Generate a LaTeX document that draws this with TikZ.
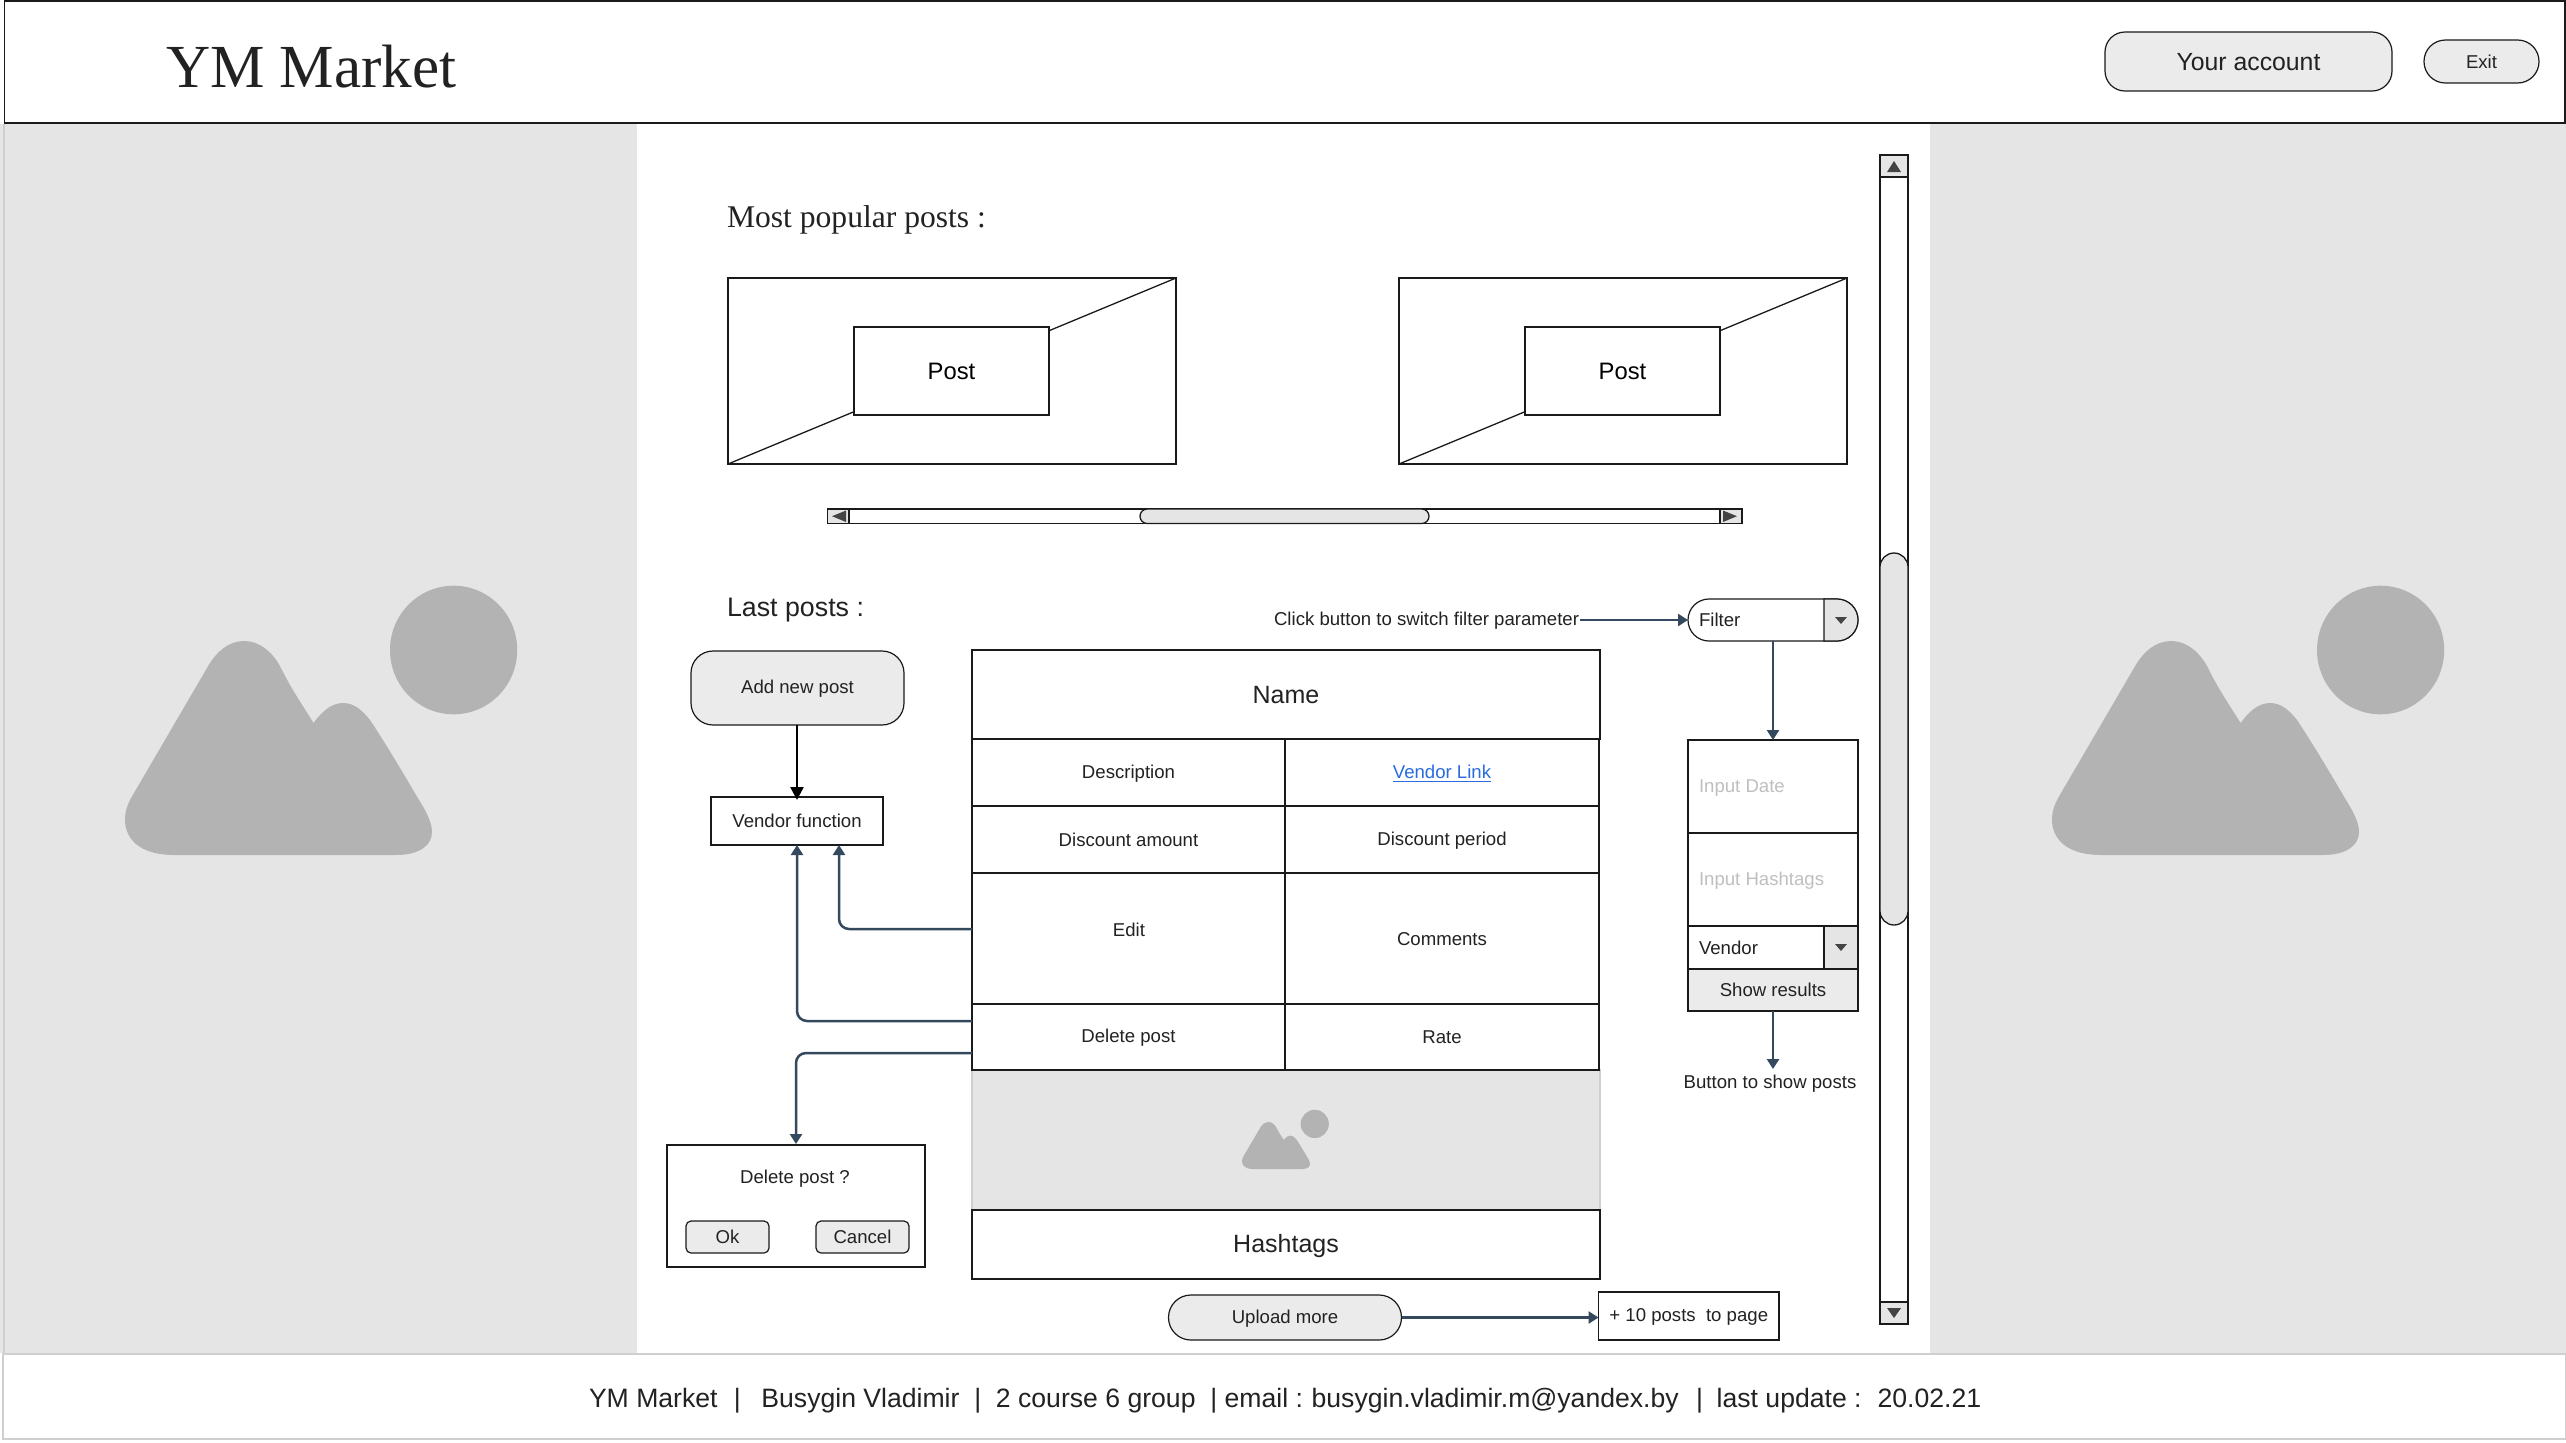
\documentclass[tikz,border=0pt]{standalone}
\usepackage{fontspec}
\setmainfont{Liberation Sans}
\newfontfamily\myserif{Liberation Serif}
\usetikzlibrary{arrows.meta}
\definecolor{panel}{HTML}{E5E5E5}
\definecolor{btn}{HTML}{EBEBEB}
\definecolor{mnt}{HTML}{B3B3B3}
\definecolor{ink}{HTML}{222222}
\definecolor{edge}{HTML}{1A1A1A}
\definecolor{conncol}{HTML}{34495E}
\definecolor{linkcol}{HTML}{2A6BE0}
\definecolor{hint}{HTML}{BFBFBF}
\definecolor{glyph}{HTML}{444444}
\definecolor{soft}{HTML}{CFCFCF}
\newcommand{\wbox}[7]{\node[#6, minimum width={(#4-#2)*0.5pt}, minimum height={(#5-#3)*0.5pt}] (#1) at ({(#2+#4)/2},{(#3+#5)/2}) {#7};}
\newcommand{\mountainart}{%
  \fill[mnt] (175,855) .. controls (130,855) and (125,830) .. (125,820)
    .. controls (125,810) and (128,803) .. (134,793) -- (207,668)
    .. controls (217,650) and (230,641) .. (244,641)
    .. controls (260,641) and (274,653) .. (282,670)
    .. controls (292,690) and (303,706) .. (313.6,723)
    .. controls (322,711) and (332,703) .. (343,703)
    .. controls (354,703) and (362,710) .. (370,720)
    .. controls (390,750) and (410,785) .. (425,810)
    .. controls (430,820) and (432,826) .. (432,832)
    .. controls (432,845) and (420,855) .. (396,855) -- cycle;
  \fill[mnt] (453.6,650) ellipse [x radius=63.6, y radius=64.3];
}
\tikzset{
  x=0.5pt, y=-0.5pt,
  base/.style={inner sep=0pt, outer sep=0pt, text=ink, execute at begin node={\rule[-0.15em]{0pt}{1em}}},
  high/.style={execute at begin node={\rule[-0.15em]{0pt}{0.9em}}},
  plain/.style={inner sep=0pt, outer sep=0pt, text=ink},
  body/.style={base, font=\fontsize{9.3pt}{11pt}\selectfont},
  bigger/.style={base, font=\fontsize{12.5pt}{15pt}\selectfont},
  cell/.style={body, draw=edge, line width=0.65pt, fill=white},
  bigcell/.style={bigger, draw=edge, line width=0.65pt, fill=white},
  frame/.style={draw=edge, line width=0.65pt, fill=white, inner sep=0pt, outer sep=0pt},
  pill/.style={body, draw=edge, line width=0.6pt, fill=btn},
  conn/.style={draw=conncol, line width=1.25pt, rounded corners=5pt, -{Triangle[width=6pt,length=5pt]}},
  tri/.style={fill=glyph, draw=none},
  sbar/.style={draw=edge, line width=0.65pt, fill=white},
  sbtn/.style={draw=edge, line width=0.65pt, fill=panel},
}
\begin{document}
\begin{tikzpicture}
\useasboundingbox (0,0) rectangle (2566,1442);
\fill[white] (0,0) rectangle (2566,1442);
% side panels
\fill[panel] (0,124) rectangle (637,1353);
\fill[panel] (1930,124) rectangle (2566,1353);
\draw[soft, line width=0.8pt] (3.7,124) -- (3.7,1353);
% header
\wbox{header}{4.5}{1}{2565}{123}{frame}{}
\node[plain, anchor=base west, font=\myserif\fontsize{30.6pt}{36pt}\selectfont] (title) at (166,87) {YM Market};
\wbox{account}{2105}{32}{2392}{91}{pill, rounded corners=10pt, font=\fontsize{12.4pt}{15pt}\selectfont}{Your account}
\wbox{exit}{2424}{40}{2539}{83}{pill, rounded corners=10.7pt}{Exit}
% footer
\wbox{footer}{3}{1354}{2566}{1439}{draw=soft, line width=0.8pt, fill=white, inner sep=0pt, outer sep=0pt}{}
\node[base, anchor=west, font=\fontsize{13.3pt}{16pt}\selectfont] (foottext) at (589,1399) {YM Market\hspace{0.8pt}~ |~ \hspace{-0.8pt}~Busygin Vladimir~ |~ 2 course 6 group~ | email :\hspace{-0.6pt} busygin.vladimir.m@yandex.by\hspace{1.4pt}~ |~\hspace{-0.6pt} last update :\hspace{-0.6pt}~ 20.02.21};
% mountains
\mountainart
\begin{scope}[shift={(1927,0)}]\mountainart\end{scope}
% section titles
\node[plain, anchor=base west, font=\myserif\fontsize{15.8pt}{18pt}\selectfont] (popular) at (727,227) {Most popular posts :};
\node[plain, anchor=base west, font=\fontsize{13.4pt}{16pt}\selectfont] (last) at (727,616) {Last posts :};
% posts
\wbox{postA}{728}{278}{1176}{464}{frame}{}
\draw[edge, line width=0.65pt] (postA.south west) -- (postA.north east);
\wbox{postAin}{854}{327}{1049}{415}{cell, font=\fontsize{11.9pt}{14pt}\selectfont, text=black}{Post}
\wbox{postB}{1399}{278}{1847}{464}{frame}{}
\draw[edge, line width=0.65pt] (postB.south west) -- (postB.north east);
\wbox{postBin}{1525}{327}{1720}{415}{cell, font=\fontsize{11.9pt}{14pt}\selectfont, text=black}{Post}
% horizontal scrollbar
\draw[sbar] (827.5,509) rectangle (1742,523.5);
\draw[sbtn] (827.5,509) rectangle (849,523.5);
\draw[sbtn] (1720,509) rectangle (1742,523.5);
\fill[tri] (832,516.2) -- (846,510.5) -- (846,522) -- cycle;
\fill[tri] (1737,516.2) -- (1723,510.5) -- (1723,522) -- cycle;
\draw[sbtn, rounded corners=3.6pt] (1140,509) rectangle (1429,523.5);
% vertical scrollbar
\draw[sbar] (1880,155) rectangle (1908,1324);
\draw[sbtn] (1880,155) rectangle (1908,177);
\draw[sbtn] (1880,1302) rectangle (1908,1324);
\fill[tri] (1894,161) -- (1901,172) -- (1887,172) -- cycle;
\fill[tri] (1894,1318) -- (1901,1308) -- (1887,1308) -- cycle;
\draw[sbtn, rounded corners=7pt] (1880,553) rectangle (1908,925);
% table
\wbox{imagecell}{972}{1070}{1600}{1210}{draw=soft, line width=0.6pt, fill=panel, inner sep=0pt, outer sep=0pt}{}
\wbox{namecell}{972}{650}{1600}{739}{bigcell}{Name}
\wbox{desc}{972}{739}{1285}{806}{cell, high}{Description}
\wbox{vlink}{1285}{739}{1599}{806}{cell, high, text=linkcol}{\underline{Vendor Link}}
\wbox{damount}{972}{806}{1285}{873}{cell}{Discount amount}
\wbox{dperiod}{1285}{806}{1599}{873}{cell}{Discount period}
\wbox{edit}{972}{873}{1285}{1004}{cell}{}
\node[body] (editlabel) at (1129,930) {Edit};
\wbox{comments}{1285}{873}{1599}{1004}{cell}{Comments}
\wbox{delpost}{972}{1004}{1285}{1070}{cell}{Delete post}
\wbox{rate}{1285}{1004}{1599}{1070}{cell, high}{Rate}
\begin{scope}[shift={(1214.3,980.9)}, xscale=0.2215, yscale=0.22]\mountainart\end{scope}
\wbox{hashcell}{972}{1210}{1600}{1279}{bigcell}{Hashtags}
% left controls
\wbox{addnew}{691}{651}{904}{725}{pill, rounded corners=11pt}{Add new post}
\wbox{vendorfn}{711}{797}{883}{845}{cell}{Vendor function}
\wbox{dialog}{667}{1145}{925}{1267}{frame}{}
\node[body] (dialogtext) at (795,1178) {Delete post ?};
\wbox{okbtn}{686}{1221}{769}{1253}{pill, rounded corners=2.5pt}{Ok}
\wbox{cancelbtn}{816}{1221}{909}{1253}{pill, rounded corners=2.5pt}{Cancel}
% bottom
\wbox{upload}{1168.5}{1295}{1401.5}{1340}{pill, rounded corners=11.2pt}{Upload more}
\wbox{tenposts}{1598.5}{1292}{1779}{1340}{cell}{+ 10 posts~ to page}
% filter column
\node[body, anchor=east] (clicktext) at (1579,620) {Click button to switch filter parameter};
\wbox{filter}{1688}{599}{1858}{641}{pill, fill=white, rounded corners=10.5pt}{}
\draw[edge, line width=0.6pt, fill=panel] (1824,599) -- (1837,599) arc[start angle=90, end angle=-90, radius=10.5pt] -- (1824,641) -- cycle;
\fill[tri] (1835,617) -- (1847,617) -- (1841,624) -- cycle;
\node[body, anchor=west] (filterlabel) at (1699,620) {Filter};
\wbox{inputdate}{1688}{740}{1858}{833}{cell}{}
\node[body, anchor=west, text=hint] (datelabel) at (1699,786.5) {Input Date};
\wbox{inputhash}{1688}{833}{1858}{926}{cell}{}
\node[body, anchor=west, text=hint] (hashlabel) at (1699,879.5) {Input Hashtags};
\wbox{vendorsel}{1688}{926}{1858}{969}{cell}{}
\draw[edge, line width=0.6pt, fill=panel] (1824,926) rectangle (1858,969);
\fill[tri] (1835,944) -- (1847,944) -- (1841,951) -- cycle;
\node[body, anchor=west] (vendorlabel) at (1699,947.5) {Vendor};
\wbox{showres}{1688}{969}{1858}{1011}{pill}{Show results}
\node[body] (showtext) at (1770,1083) {Button to show posts};
% connectors
\coordinate (vfLeft) at (797,845);
\coordinate (vfRight) at (839,845);
\coordinate (editOut) at (972,929);
\coordinate (delOutA) at (972,1021);
\coordinate (delOutB) at (972,1053);
\coordinate (dialogIn) at (796,1144);
\coordinate (filterDown) at (1773,641);
\coordinate (inputTop) at (1773,740);
\coordinate (showDown) at (1773,1011);
\coordinate (showTip) at (1773,1069);
\coordinate (clickEnd) at (1580,620);
\coordinate (uploadEnd) at (1401.5,1317.5);
\coordinate (tenIn) at (1598.5,1317.5);
\draw[line width=1.25pt, draw=black, shorten >=-1.5pt, -{Triangle[width=6.5pt,length=6.5pt]}] (addnew.south -| vfLeft) -- (vfLeft |- vendorfn.north);
\draw[conn] (editOut) -| (vfRight);
\draw[conn] (delOutA) -| (vfLeft);
\draw[conn] (delOutB) -| (dialogIn);
\draw[conn, rounded corners=0pt] (clickEnd) -- (filter.west);
\draw[conn, rounded corners=0pt] (filterDown) -- (inputTop);
\draw[conn, rounded corners=0pt] (showDown) -- (showTip);
\draw[conn, rounded corners=0pt] (uploadEnd) -- (tenIn);
\end{tikzpicture}
\end{document}
